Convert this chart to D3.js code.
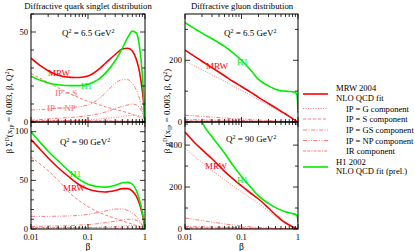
<!DOCTYPE html>
<html>
<head>
<meta charset="utf-8">
<script src="https://cdn.jsdelivr.net/npm/d3@7"></script>
<style>
  body { margin: 0; background: #fff; }
  svg text { font-family: "Liberation Serif", "Times New Roman", "DejaVu Serif", serif; }
</style>
</head>
<body>
<svg id="chart" width="415" height="251" font-family="Liberation Serif, Times New Roman, serif"></svg>
<script>
// beta grids
const betaQ = [0.01, 0.015, 0.02, 0.03, 0.05, 0.07, 0.1, 0.15, 0.2, 0.3, 0.4, 0.5, 0.6, 0.7, 0.8, 0.9, 0.95, 1];
const betaG = [0.01, 0.015, 0.02, 0.03, 0.05, 0.07, 0.1, 0.15, 0.2, 0.3, 0.4, 0.5, 0.6, 0.7, 0.8, 0.9, 0.95, 0.98, 1];

// quark singlet, Q2 = 6.5
const q6MRW = [35.5, 31, 28.5, 26, 24.8, 24.7, 25.5, 29, 32.5, 37.5, 40.5, 41, 39.5, 35, 28, 17, 10, 0];
const q6H1  = [25.5, 23, 21.7, 20.7, 20.2, 20.2, 21, 23.5, 27, 34, 41, 47, 50.5, 49.5, 42, 26, 14, 0];
const q6G   = [0.3, 0.4, 0.5, 0.7, 0.9, 1, 1.2, 1.6, 2, 2.5, 3, 3.5, 3.8, 3.8, 3.4, 2.3, 1.3, 0];
const q6S   = [27, 24, 22, 19, 15.5, 13.5, 11.5, 9.8, 8.5, 7, 6, 5, 4.2, 3.5, 2.6, 1.5, 0.8, 0];
const q6GS  = [1, 1.4, 1.7, 2.1, 2.5, 3, 3.5, 4.5, 5.5, 7.5, 8.7, 9.5, 10, 9.5, 8, 5, 2.8, 0];
const q6NP  = [6.7, 6.9, 7.2, 7.6, 8, 8.5, 9.5, 12.5, 16, 21.5, 23.5, 23.5, 21.5, 18, 13, 6.5, 3.2, 0];
const q6IR  = [0.8, 0.8, 0.8, 0.8, 0.8, 0.8, 0.8, 0.7, 0.7, 0.6, 0.5, 0.5, 0.4, 0.4, 0.3, 0.2, 0.1, 0];

// quark singlet, Q2 = 90
const q90MRW = [92, 81, 73, 63, 52, 45.5, 41, 38.5, 38, 39.5, 41.5, 41.5, 39, 34, 26, 15, 8, 0];
const q90H1  = [100, 88, 80, 70, 58, 51, 46, 43.5, 43, 45, 47.5, 48, 46, 40, 30, 17, 9, 0];
const q90G   = [0.5, 0.6, 0.7, 0.8, 0.9, 1, 1.2, 1.6, 2, 2.5, 3, 3.5, 3.6, 3.5, 3, 2, 1.1, 0];
const q90S   = [74, 66, 60, 50, 36, 29, 23, 17.5, 14.5, 11, 8.5, 6.5, 5, 3.5, 2.3, 1.2, 0.6, 0];
const q90GS  = [2.5, 2.8, 3, 3.2, 3.5, 4, 4.5, 5.5, 6.5, 8, 9.2, 10, 10, 9, 7, 4, 2.2, 0];
const q90NP  = [13, 13, 13, 13.2, 13.5, 14, 15, 17, 18.5, 20.5, 20.5, 19, 16.5, 13, 8.5, 4, 2, 0];
const q90IR  = [1.5, 1.5, 1.5, 1.5, 1.5, 1.5, 1.5, 1.3, 1.2, 1, 0.9, 0.8, 0.7, 0.6, 0.5, 0.3, 0.15, 0];

// gluon, Q2 = 6.5
const g6MRW = [233, 212, 197, 176, 150, 132, 115, 95, 80, 60, 46, 35, 26, 18, 11, 5, 2.5, 1, 0];
const g6H1  = [322, 302, 288, 270, 245, 225, 200, 165, 138, 117, 106, 101, 100, 99, 98, 96, 90, 70, 30];
const g6G   = [197, 181, 170, 153, 132, 117, 102, 85, 72, 54, 42, 32, 24, 16.5, 10, 4.5, 2.2, 0.9, 0];
const g6S   = [3, 2.8, 2.6, 2.4, 2.2, 2.1, 2, 1.7, 1.5, 1.1, 0.8, 0.5, 0.3, 0.2, 0.1, 0, 0, 0, 0];
const g6GS  = [8, 7.5, 7, 6.5, 6, 5.5, 5, 4.3, 3.8, 3, 2.3, 1.6, 1.2, 0.8, 0.5, 0.2, 0.1, 0, 0];
const g6NP  = [22, 20, 18, 16, 13, 11, 9.5, 8, 6.5, 4.5, 3.5, 2.5, 1.8, 1.2, 0.8, 0.4, 0.2, 0.1, 0];
const g6IR  = [3, 2.8, 2.6, 2.4, 2.2, 2.1, 2, 1.7, 1.4, 1, 0.8, 0.5, 0.3, 0.2, 0.1, 0, 0, 0, 0];

// gluon, Q2 = 90
const g90MRW = [462, 410, 378, 335, 275, 240, 205, 168, 143, 100, 68, 45, 30, 19, 11, 5, 2.5, 1, 0];
const g90H1  = [740, 610, 510, 440, 362, 305, 250, 195, 158, 122, 102, 90, 82, 77, 73, 70, 66, 55, 30];
const g90G   = [385, 345, 318, 280, 235, 206, 178, 145, 122, 86, 59, 40, 27, 17, 10, 4.5, 2.2, 0.9, 0];
const g90S   = [5, 4.6, 4.3, 3.9, 3.4, 3, 2.6, 2.2, 1.8, 1.3, 1, 0.7, 0.5, 0.3, 0.2, 0.1, 0, 0, 0];
const g90GS  = [12, 11, 10.5, 9.5, 8, 7, 6, 5, 4.2, 3.2, 2.4, 1.7, 1.2, 0.8, 0.5, 0.2, 0.1, 0, 0];
const g90NP  = [53, 45, 40, 33, 24, 19, 14, 10, 7.5, 5, 3.5, 2.5, 1.7, 1.1, 0.6, 0.3, 0.1, 0, 0];
const g90IR  = [6, 5.5, 5, 4.5, 3.8, 3.3, 2.8, 2.2, 1.8, 1.3, 0.9, 0.6, 0.4, 0.3, 0.2, 0.1, 0, 0, 0];

const xTickLabels = ["0.01", "0.1", "1"];

const red = "#ff0000", green = "#00ee00", pink = "#ff6b6b";
const compStyles = {
    G: "1,1.5",
    S: "3,2",
    GS: "4,1.5,1,1.5",
    NP: "4,1.5,1,1.5,1,1.5",
    IR: "3,1.2,3,1.2,1,1.2"
};

const svg = d3.select("#chart");
let clipId = 0;

function drawPanel(p) {
    const x = d3.scaleLog().domain([0.01, 1]).range([p.x0, p.x1]);
    const y = d3.scaleLinear().domain([0, p.ymax]).range([p.y1, p.y0]);
    const g = svg.append("g");
    const id = "clip" + (clipId++);
    g.append("clipPath").attr("id", id).append("rect")
        .attr("x", p.x0).attr("y", p.y0).attr("width", p.x1 - p.x0).attr("height", p.y1 - p.y0);
    const plot = g.append("g").attr("clip-path", `url(#${id})`);

    const line = d3.line()
        .x((d, i) => x(p.beta[i]))
        .y(d => y(d))
        .curve(d3.curveMonotoneX);

    // components
    p.comps.forEach(c => {
        plot.append("path").attr("d", line(c.v))
            .attr("fill", "none").attr("stroke", pink).attr("stroke-width", 0.9)
            .attr("stroke-dasharray", compStyles[c.k]);
    });
    plot.append("path").attr("d", line(p.mrw))
        .attr("fill", "none").attr("stroke", red).attr("stroke-width", 1.6);
    plot.append("path").attr("d", line(p.h1))
        .attr("fill", "none").attr("stroke", green).attr("stroke-width", 1.6);

    // frame
    g.append("rect").attr("x", p.x0).attr("y", p.y0)
        .attr("width", p.x1 - p.x0).attr("height", p.y1 - p.y0)
        .attr("fill", "none").attr("stroke", "#000").attr("stroke-width", 1);

    // x ticks (inward, top and bottom)
    x.ticks().forEach(t => {
        const major = Math.abs(Math.log10(t) - Math.round(Math.log10(t))) < 1e-6;
        const len = major ? 5 : 3;
        g.append("line").attr("x1", x(t)).attr("x2", x(t)).attr("y1", p.y1).attr("y2", p.y1 - len)
            .attr("stroke", "#000").attr("stroke-width", 0.8);
        g.append("line").attr("x1", x(t)).attr("x2", x(t)).attr("y1", p.y0).attr("y2", p.y0 + len)
            .attr("stroke", "#000").attr("stroke-width", 0.8);
    });
    // y ticks (inward, left and right)
    d3.range(0, p.ymax + 1e-9, p.minor).forEach(v => {
        const major = Math.abs(v / p.major - Math.round(v / p.major)) < 1e-6;
        const len = major ? 5 : 3;
        g.append("line").attr("x1", p.x0).attr("x2", p.x0 + len).attr("y1", y(v)).attr("y2", y(v))
            .attr("stroke", "#000").attr("stroke-width", 0.8);
        g.append("line").attr("x1", p.x1).attr("x2", p.x1 - len).attr("y1", y(v)).attr("y2", y(v))
            .attr("stroke", "#000").attr("stroke-width", 0.8);
        if (major) {
            g.append("text").attr("x", p.x0 - 3).attr("y", y(v) + 2.5)
                .attr("text-anchor", "end").attr("font-size", 8.6).text(v);
        }
    });
    if (p.xlabels) {
        [0.01, 0.1, 1].forEach((t, i) => {
            g.append("text").attr("x", x(t)).attr("y", p.y1 + 11)
                .attr("text-anchor", "middle").attr("font-size", 8.6).text(xTickLabels[i]);
        });
        g.append("text").attr("x", (p.x0 + p.x1) / 2).attr("y", p.y1 + 20.5)
            .attr("text-anchor", "middle").attr("font-size", 9.5).text("β");
    }

    // Q2 label
    const q = g.append("text").attr("x", p.qx).attr("y", p.qy).attr("font-size", 9);
    q.append("tspan").text("Q");
    q.append("tspan").attr("dy", -3.5).attr("font-size", 6).text("2");
    q.append("tspan").attr("dy", 3.5).text(" = " + p.qtext + " GeV");
    q.append("tspan").attr("dy", -3.5).attr("font-size", 6).text("2");

    // curve labels
    p.labels.forEach(l => {
        g.append("text").attr("x", l.x).attr("y", l.y).attr("font-size", 9)
            .attr("fill", l.c).text(l.t);
    });
}

drawPanel({ x0: 31, x1: 145, y0: 14, y1: 122, ymax: 60, major: 50, minor: 10, beta: betaQ,
    mrw: q6MRW, h1: q6H1,
    comps: [{ k: "G", v: q6G }, { k: "S", v: q6S }, { k: "GS", v: q6GS }, { k: "NP", v: q6NP }, { k: "IR", v: q6IR }],
    qx: 62, qy: 36, qtext: "6.5",
    labels: [{ x: 48, y: 76, t: "MRW", c: red }, { x: 81, y: 88.5, t: "H1", c: green },
             { x: 55, y: 96, t: "IP = S", c: pink }, { x: 47, y: 111, t: "IP = NP", c: pink }] });

drawPanel({ x0: 31, x1: 145, y0: 122, y1: 229, ymax: 110, major: 50, minor: 10, beta: betaQ,
    mrw: q90MRW, h1: q90H1, xlabels: true,
    comps: [{ k: "G", v: q90G }, { k: "S", v: q90S }, { k: "GS", v: q90GS }, { k: "NP", v: q90NP }, { k: "IR", v: q90IR }],
    qx: 60, qy: 145, qtext: "90",
    labels: [{ x: 70, y: 177, t: "H1", c: green }, { x: 63, y: 191, t: "MRW", c: red }] });

drawPanel({ x0: 185, x1: 298, y0: 14, y1: 122, ymax: 350, major: 200, minor: 100, beta: betaG,
    mrw: g6MRW, h1: g6H1,
    comps: [{ k: "G", v: g6G }, { k: "S", v: g6S }, { k: "GS", v: g6GS }, { k: "NP", v: g6NP }, { k: "IR", v: g6IR }],
    qx: 224, qy: 36, qtext: "6.5",
    labels: [{ x: 206, y: 69, t: "MRW", c: red }, { x: 237, y: 65, t: "H1", c: green }] });

drawPanel({ x0: 185, x1: 298, y0: 122, y1: 229, ymax: 510, major: 200, minor: 100, beta: betaG,
    mrw: g90MRW, h1: g90H1, xlabels: true,
    comps: [{ k: "G", v: g90G }, { k: "S", v: g90S }, { k: "GS", v: g90GS }, { k: "NP", v: g90NP }, { k: "IR", v: g90IR }],
    qx: 226, qy: 142, qtext: "90",
    labels: [{ x: 205, y: 169, t: "MRW", c: red }, { x: 237, y: 183, t: "H1", c: green }] });

// titles
svg.append("text").attr("x", 88).attr("y", 9).attr("text-anchor", "middle").attr("font-size", 8.7)
    .text("Diffractive quark singlet distribution");
svg.append("text").attr("x", 242).attr("y", 9).attr("text-anchor", "middle").attr("font-size", 8.7)
    .text("Diffractive gluon distribution");

// y axis titles
function yTitle(xp, sym) {
    const t = svg.append("text").attr("transform", `translate(${xp},111) rotate(-90)`)
        .attr("text-anchor", "middle").attr("font-size", 9);
    t.append("tspan").text("β " + sym);
    t.append("tspan").attr("dy", -3.5).attr("font-size", 6).text("D");
    t.append("tspan").attr("dy", 3.5).text("(x");
    t.append("tspan").attr("dy", 2).attr("font-size", 6).text("IP");
    t.append("tspan").attr("dy", -2).text(" = 0.003, β, Q");
    t.append("tspan").attr("dy", -3.5).attr("font-size", 6).text("2");
    t.append("tspan").attr("dy", 3.5).text(")");
}
yTitle(12, "Σ");
yTitle(170, "g");

// legend
const legend = svg.append("g");
legend.append("line").attr("x1", 303).attr("x2", 328).attr("y1", 94).attr("y2", 94)
    .attr("stroke", red).attr("stroke-width", 1.6);
legend.append("text").attr("x", 336).attr("y", 90.5).attr("font-size", 8.6).text("MRW 2004");
legend.append("text").attr("x", 336).attr("y", 100.5).attr("font-size", 8.6).text("NLO QCD fit");
const legComps = [
    { k: "G", y: 108.5, t: "IP = G component" },
    { k: "S", y: 119, t: "IP = S component" },
    { k: "GS", y: 130, t: "IP = GS component" },
    { k: "NP", y: 140.5, t: "IP = NP component" },
    { k: "IR", y: 151, t: "IR component" }
];
legComps.forEach(c => {
    legend.append("line").attr("x1", 303).attr("x2", 328).attr("y1", c.y).attr("y2", c.y)
        .attr("stroke", pink).attr("stroke-width", 0.9).attr("stroke-dasharray", compStyles[c.k]);
    legend.append("text").attr("x", 346).attr("y", c.y + 3).attr("font-size", 8.6).text(c.t);
});
legend.append("line").attr("x1", 303).attr("x2", 328).attr("y1", 167).attr("y2", 167)
    .attr("stroke", green).attr("stroke-width", 1.6);
legend.append("text").attr("x", 336).attr("y", 164.5).attr("font-size", 8.6).text("H1 2002");
legend.append("text").attr("x", 336).attr("y", 174).attr("font-size", 8.6).text("NLO QCD fit (prel.)");
</script>
</body>
</html>
